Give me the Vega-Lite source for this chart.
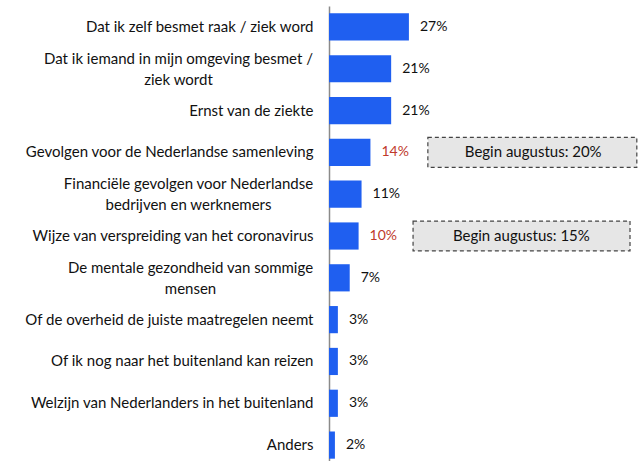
{
  "$schema": "https://vega.github.io/schema/vega-lite/v6.json",
  "autosize": {"type": "none"},
  "padding": {"left": 329, "top": 6, "right": 0, "bottom": 0},
  "width": 309,
  "height": 460,
  "background": "white",
  "config": {"view": {"stroke": null}, "font": "Lato"},
  "data": {
    "values": [
      {"item": "Dat ik zelf besmet raak / ziek word", "value": 27, "pct": "27%"},
      {"item": "Dat ik iemand in mijn omgeving besmet  /|ziek wordt", "value": 21, "pct": "21%"},
      {"item": "Ernst van de ziekte", "value": 21, "pct": "21%"},
      {"item": "Gevolgen voor de Nederlandse samenleving", "value": 14, "pct": "14%", "highlight": true, "note": "Begin augustus: 20%", "noteFrom": 33.4, "noteTo": 104, "noteMid": 69},
      {"item": "Financiële gevolgen voor Nederlandse|bedrijven en werknemers", "value": 11, "pct": "11%"},
      {"item": "Wijze van verspreiding van het coronavirus", "value": 10, "pct": "10%", "highlight": true, "note": "Begin augustus: 15%", "noteFrom": 28.4, "noteTo": 101.7, "noteMid": 65},
      {"item": "De mentale gezondheid van sommige|mensen", "value": 7, "pct": "7%"},
      {"item": "Of de overheid de juiste maatregelen neemt", "value": 3, "pct": "3%"},
      {"item": "Of ik nog naar het buitenland kan reizen", "value": 3, "pct": "3%"},
      {"item": "Welzijn van Nederlanders in het buitenland", "value": 3, "pct": "3%"},
      {"item": "Anders", "value": 2, "pct": "2%"}
    ]
  },
  "encoding": {
    "y": {
      "field": "item",
      "type": "nominal",
      "sort": null,
      "scale": {"paddingInner": 0.35, "paddingOuter": 0.175},
      "axis": {
        "title": null,
        "labelExpr": "split(datum.label, '|')",
        "labelFont": "Lato",
        "labelFontSize": 15,
        "labelColor": "#111111",
        "labelAlign": {"condition": {"test": "indexof(datum.value, '|') >= 0", "value": "center"}, "value": "right"},
        "labelOffset": {"condition": {"test": "indexof(datum.value, '|') >= 0", "value": -10}, "value": 0},
        "labelPadding": {
          "condition": [
            {"test": "indexof(datum.value, 'Dat ik iemand') == 0", "value": 151},
            {"test": "indexof(datum.value, 'Financi') == 0", "value": 141},
            {"test": "indexof(datum.value, 'De mentale') == 0", "value": 139}
          ],
          "value": 16
        },
        "labelLimit": 400,
        "labelLineHeight": 21,
        "ticks": false,
        "domainColor": "#8a8a8a",
        "domainWidth": 1.5
      }
    }
  },
  "layer": [
    {
      "mark": {"type": "bar", "color": "#1f5ff0"},
      "encoding": {
        "x": {"field": "value", "type": "quantitative", "scale": {"domain": [0, 104.4], "nice": false}, "axis": null}
      }
    },
    {
      "mark": {"type": "text", "align": "left", "baseline": "middle", "dx": 11, "fontSize": 14, "font": "Lato"},
      "encoding": {
        "x": {"field": "value", "type": "quantitative"},
        "text": {"field": "pct"},
        "color": {"condition": {"test": "datum.highlight", "value": "#c0392b"}, "value": "#111111"}
      }
    },
    {
      "transform": [{"filter": "datum.note"}],
      "mark": {"type": "rect", "fill": "#e6e6e6", "stroke": "#444444", "strokeDash": [4, 3], "strokeWidth": 1.2, "height": {"band": 1.1}},
      "encoding": {
        "x": {"field": "noteFrom", "type": "quantitative"},
        "x2": {"field": "noteTo"}
      }
    },
    {
      "transform": [{"filter": "datum.note"}],
      "mark": {"type": "text", "align": "center", "baseline": "middle", "fontSize": 15, "font": "Lato", "color": "#111111"},
      "encoding": {
        "x": {"field": "noteMid", "type": "quantitative"},
        "text": {"field": "note"}
      }
    }
  ]
}
